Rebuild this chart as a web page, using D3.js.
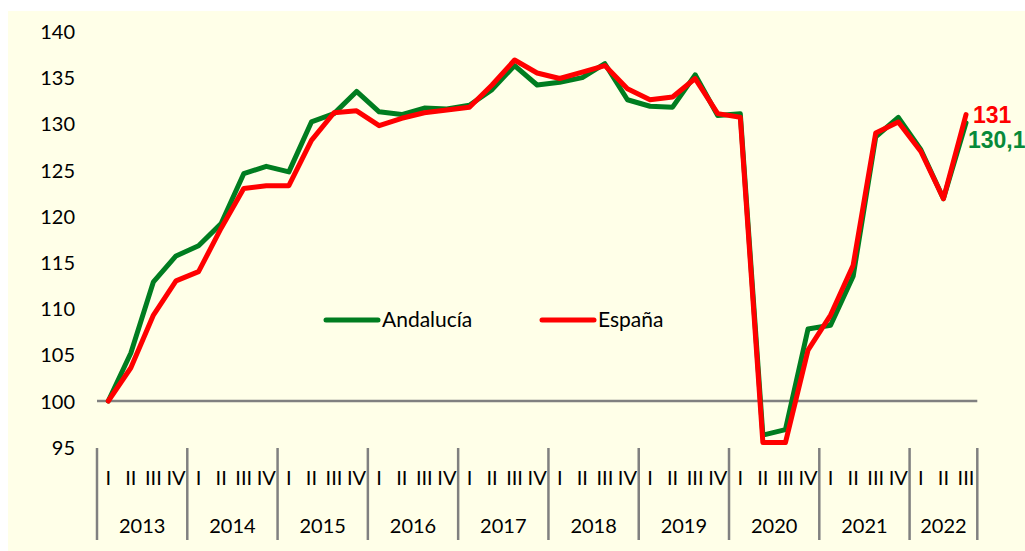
<!DOCTYPE html>
<html>
<head>
<meta charset="utf-8">
<script src="https://cdn.jsdelivr.net/npm/d3@7"></script>
<style>
  html, body { margin: 0; padding: 0; background: #ffffff; }
  svg { display: block; }
  text { font-family: Lato, "Open Sans", sans-serif; }
</style>
</head>
<body>
<svg id="chart" width="1025" height="551"></svg>
<script>
const years = ["2013","2014","2015","2016","2017","2018","2019","2020","2021","2022"];
const quarterNames = ["I","II","III","IV"];
const yTicks = [95,100,105,110,115,120,125,130,135,140];
const seriesNames = ["Andalucía","España"];
const andalucia = [100, 105.2, 112.9, 115.7, 116.8, 119.2, 124.6, 125.4, 124.8, 130.2,
  131.1, 133.5, 131.3, 131.0, 131.7, 131.6, 132.0, 133.7, 136.3, 134.2,
  134.5, 135.0, 136.5, 132.6, 131.9, 131.8, 135.3, 130.9, 131.1, 96.3,
  96.9, 107.8, 108.2, 113.5, 128.6, 130.7, 127.2, 121.9, 130.1];
const espana = [100, 103.6, 109.3, 113.0, 114.0, 118.7, 123.0, 123.3, 123.3, 128.2,
  131.2, 131.4, 129.8, 130.6, 131.2, 131.5, 131.8, 134.2, 136.9, 135.5,
  134.9, 135.6, 136.3, 133.8, 132.6, 132.9, 134.9, 131.1, 130.7, 95.5,
  95.5, 105.5, 109.3, 114.7, 129.0, 130.2, 127.0, 121.9, 131.0];
const endLabels = ["130,1","131"];

// categories: year-quarter keys
const cats = [];
years.forEach(y => quarterNames.forEach(q => cats.push({year: y, q: q, key: y + "-" + q})));
const categories = cats.slice(0, andalucia.length);

const svg = d3.select("#chart");
const colors = {andalucia: "#007d20", espana: "#ff0000", grid: "#808080", bg: "#ffffe8", labelGreen: "#078a3a"};

svg.append("rect").attr("x", 8).attr("y", 11).attr("width", 1017).attr("height", 540).attr("fill", colors.bg);

const x = d3.scaleBand().domain(categories.map(d => d.key)).range([97, 977.3]).padding(0);
const y = d3.scaleLinear().domain([95, 140]).range([447.2, 31.4]);

// y axis labels
const yAxis = d3.axisLeft(y).tickValues(yTicks).tickSize(0).tickPadding(0);
const gy = svg.append("g").attr("transform", "translate(75,0)").call(yAxis);
gy.select(".domain").remove();
gy.selectAll("text").attr("font-size", 20).attr("fill", "#000").attr("dy", "0.35em");

// reference line at 100
svg.append("line")
  .attr("x1", x.range()[0]).attr("x2", x.range()[1])
  .attr("y1", y(100)).attr("y2", y(100))
  .attr("stroke", colors.grid).attr("stroke-width", 2.5);

// x axis: quarter labels
const xAxis = d3.axisBottom(x).tickSize(0).tickFormat(k => categories.find(c => c.key === k).q);
const gx = svg.append("g").attr("transform", "translate(0,478)").call(xAxis);
gx.select(".domain").remove();
gx.selectAll("text").attr("font-size", 20).attr("fill", "#000").attr("y", 0).attr("dy", "0.35em");

// year groups
const yearGroups = years.map(yr => {
  const ks = categories.filter(c => c.year === yr).map(c => c.key);
  return {year: yr, x0: x(ks[0]), x1: x(ks[ks.length - 1]) + x.bandwidth()};
});
const dividers = yearGroups.map(g => g.x0).concat([x.range()[1]]);
svg.append("g").selectAll("line").data(dividers).join("line")
  .attr("x1", d => d).attr("x2", d => d)
  .attr("y1", 448).attr("y2", 540)
  .attr("stroke", colors.grid).attr("stroke-width", 2.5);
svg.append("g").selectAll("text").data(yearGroups).join("text")
  .attr("x", d => (d.x0 + d.x1) / 2).attr("y", 526)
  .attr("dy", "0.35em").attr("text-anchor", "middle")
  .attr("font-size", 20).attr("fill", "#000")
  .text(d => d.year);

// lines
const line = d3.line().x((d, i) => x(categories[i].key) + x.bandwidth() / 2).y(d => y(d));
svg.append("path").datum(andalucia).attr("d", line)
  .attr("fill", "none").attr("stroke", colors.andalucia).attr("stroke-width", 5)
  .attr("stroke-linejoin", "round").attr("stroke-linecap", "round");
svg.append("path").datum(espana).attr("d", line)
  .attr("fill", "none").attr("stroke", colors.espana).attr("stroke-width", 5)
  .attr("stroke-linejoin", "round").attr("stroke-linecap", "round");

// end labels
const lastI = categories.length - 1;
const lastX = x(categories[lastI].key) + x.bandwidth() / 2;
svg.append("text").attr("x", lastX + 7).attr("y", 115).attr("dy", "0.35em")
  .style("font-family", "'Liberation Sans', Arial, sans-serif").attr("font-weight", "bold")
  .attr("font-size", 23).attr("fill", colors.espana).text(endLabels[1]);
svg.append("text").attr("x", lastX + 2).attr("y", 139.5).attr("dy", "0.35em")
  .style("font-family", "'Liberation Sans', Arial, sans-serif").attr("font-weight", "bold")
  .attr("font-size", 23).attr("fill", colors.labelGreen).text(endLabels[0]);

// legend
const legend = [
  {name: seriesNames[0], color: colors.andalucia, x: 324},
  {name: seriesNames[1], color: colors.espana, x: 540}
];
const lg = svg.append("g").selectAll("g").data(legend).join("g")
  .attr("transform", d => `translate(${d.x},320)`);
lg.append("line").attr("x1", 2).attr("x2", 54).attr("y1", 0).attr("y2", 0)
  .attr("stroke", d => d.color).attr("stroke-width", 5).attr("stroke-linecap", "round");
lg.append("text").attr("x", 58).attr("y", 0).attr("dy", "0.35em")
  .attr("font-size", 21).attr("fill", "#000").text(d => d.name);
</script>
</body>
</html>
